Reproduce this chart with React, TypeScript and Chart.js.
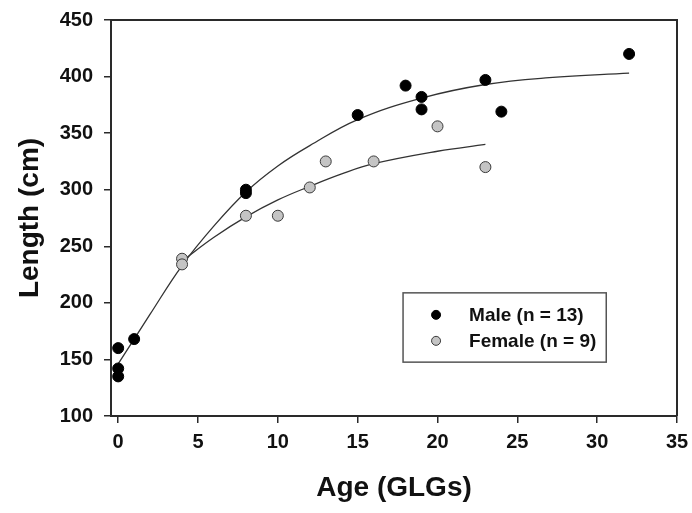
import React, { useEffect, useRef } from "react";
import { Chart, registerables } from "chart.js";

Chart.register(...registerables);

// ---- data ----
const maleAge = [0, 0, 0, 1, 8, 8, 15, 18, 19, 19, 23, 24, 32];
const maleLength = [160, 142, 135, 168, 300, 297, 366, 392, 382, 371, 397, 369, 420];

const femaleAge = [4, 4, 8, 10, 12, 13, 16, 20, 23];
const femaleLength = [239, 234, 277, 277, 302, 325, 325, 356, 320];

const maleCurveAge = [0, 2, 4, 6, 8, 10, 12, 15, 19, 23, 27, 32];
const maleCurveLength = [146, 190, 233, 268, 298, 321, 339, 362, 381, 393, 399, 403];

const femaleCurveAge = [4, 6, 8, 10, 12, 14, 16, 20, 23];
const femaleCurveLength = [237, 258, 276, 291, 303, 314, 323, 334, 340];

const xTickValues = [0, 5, 10, 15, 20, 25, 30, 35];
const yTickValues = [100, 150, 200, 250, 300, 350, 400, 450];

const maleLabel = "Male (n = 13)";
const femaleLabel = "Female (n = 9)";
const xTitle = "Age (GLGs)";
const yTitle = "Length (cm)";

const FONT = "'Liberation Sans', Arial, Helvetica, sans-serif";
const AXIS = "#2a2a2a";

const zip = (xs: number[], ys: number[]) => xs.map((x, i) => ({ x, y: ys[i] }));

const frameAndLegend = {
  id: "frameAndLegend",
  afterDraw(chart: any) {
    const { ctx, chartArea: a } = chart;
    ctx.save();
    ctx.strokeStyle = AXIS;
    ctx.lineWidth = 2;
    ctx.beginPath();
    ctx.moveTo(a.left, a.top);
    ctx.lineTo(a.right, a.top);
    ctx.lineTo(a.right, a.bottom);
    ctx.stroke();

    const w = a.right - a.left;
    const h = a.bottom - a.top;
    const bx = a.left + 0.516 * w;
    const by = a.top + 0.689 * h;
    const bw = 0.359 * w;
    const bh = 0.175 * h;
    ctx.fillStyle = "#ffffff";
    ctx.fillRect(bx, by, bw, bh);
    ctx.strokeStyle = "#555555";
    ctx.lineWidth = 1.5;
    ctx.strokeRect(bx, by, bw, bh);

    const items = [0, 1].map((i) => chart.data.datasets[i]);
    const rows = [by + 22, by + 48];
    items.forEach((ds: any, i: number) => {
      const cy = rows[i];
      const cx = bx + 33;
      ctx.beginPath();
      ctx.arc(cx, cy, 4.5, 0, Math.PI * 2);
      ctx.fillStyle = ds.backgroundColor;
      ctx.fill();
      ctx.lineWidth = 1;
      ctx.strokeStyle = ds.borderColor;
      ctx.stroke();
      ctx.fillStyle = "#111111";
      ctx.font = `bold 19px ${FONT}`;
      ctx.textBaseline = "middle";
      ctx.textAlign = "left";
      ctx.fillText(ds.label, bx + 66, cy + 1);
    });
    ctx.restore();
  },
};

export default function App() {
  const ref = useRef<HTMLCanvasElement | null>(null);

  useEffect(() => {
    if (!ref.current) return;
    const chart = new Chart(ref.current, {
      type: "scatter",
      data: {
        datasets: [
          {
            label: maleLabel,
            data: zip(maleAge, maleLength),
            backgroundColor: "#000000",
            borderColor: "#000000",
            borderWidth: 1,
            pointRadius: 5.5,
            order: 0,
          },
          {
            label: femaleLabel,
            data: zip(femaleAge, femaleLength),
            backgroundColor: "#c4c4c4",
            borderColor: "#3a3a3a",
            borderWidth: 1,
            pointRadius: 5.5,
            order: 1,
          },
          {
            label: "Male fit",
            data: zip(maleCurveAge, maleCurveLength),
            showLine: true,
            borderColor: "#333333",
            borderWidth: 1.3,
            pointRadius: 0,
            tension: 0.4,
            order: 2,
          } as any,
          {
            label: "Female fit",
            data: zip(femaleCurveAge, femaleCurveLength),
            showLine: true,
            borderColor: "#333333",
            borderWidth: 1.3,
            pointRadius: 0,
            tension: 0.4,
            order: 2,
          } as any,
        ],
      },
      options: {
        animation: false,
        responsive: false,
        maintainAspectRatio: false,
        events: [],
        layout: { padding: { left: 0, top: 20, right: 15, bottom: 0 } },
        plugins: {
          legend: { display: false },
          tooltip: { enabled: false },
        },
        scales: {
          x: {
            type: "linear",
            min: -0.45,
            max: 35,
            afterBuildTicks: (s: any) => {
              s.ticks = xTickValues.map((v) => ({ value: v }));
            },
            afterFit: (s: any) => {
              s.height = 97;
              s.paddingLeft = 0;
              s.paddingRight = 0;
            },
            grid: {
              drawOnChartArea: false,
              drawTicks: true,
              tickLength: 7,
              color: AXIS,
              lineWidth: 1.5,
            },
            border: { display: true, color: AXIS, width: 2 },
            ticks: {
              color: "#111111",
              padding: 7,
              font: { family: FONT, size: 20, weight: "bold" },
            },
            title: {
              display: true,
              text: xTitle,
              color: "#111111",
              padding: { top: 0, bottom: 8 },
              font: { family: FONT, size: 28, weight: "bold" },
            },
          },
          y: {
            type: "linear",
            min: 100,
            max: 450,
            afterBuildTicks: (s: any) => {
              s.ticks = yTickValues.map((v) => ({ value: v }));
            },
            afterFit: (s: any) => {
              s.width = 111;
              s.paddingTop = 0;
              s.paddingBottom = 0;
            },
            grid: {
              drawOnChartArea: false,
              drawTicks: true,
              tickLength: 7,
              color: AXIS,
              lineWidth: 1.5,
            },
            border: { display: true, color: AXIS, width: 2 },
            ticks: {
              color: "#111111",
              padding: 11,
              font: { family: FONT, size: 20, weight: "bold" },
            },
            title: {
              display: true,
              text: yTitle,
              color: "#111111",
              padding: { top: 13, bottom: 0 },
              font: { family: FONT, size: 28, weight: "bold" },
            },
          },
        },
      },
      plugins: [frameAndLegend],
    });
    return () => chart.destroy();
  }, []);

  return (
    <div style={{ position: "fixed", left: 0, top: 0, width: 692, height: 513, background: "#fff" }}>
      <canvas ref={ref} width={692} height={513} style={{ width: 692, height: 513, display: "block" }} />
    </div>
  );
}
